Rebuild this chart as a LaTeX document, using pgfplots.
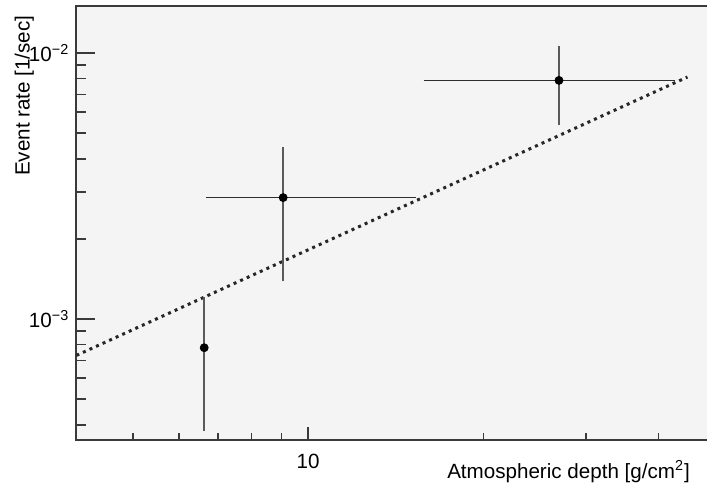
\documentclass[border=0pt]{standalone}
\usepackage{fontspec}
\setmainfont{Liberation Sans}
\usepackage{pgfplots}
\pgfplotsset{compat=1.18}
\usepackage{pgfplotstable}

\definecolor{padbg}{HTML}{F3F4F3}
\definecolor{framecol}{HTML}{3A3A3A}
\definecolor{xerrcol}{HTML}{2E2E2E}
\definecolor{yerrcol}{HTML}{5A5A5A}
\definecolor{fitcol}{HTML}{262626}

% measured rates: depth, rate, depth bin (minus/plus), rate error
\pgfplotstableread{
x      y        exm    exp    ey
6.63   7.8e-4   0      0      3.9e-4
9.06   2.86e-3  2.29   6.07   1.43e-3
26.96  7.89e-3  10.94  15.02  2.37e-3
}\ratedata

% linear scaling reference line
\pgfplotstableread{
x     y
4.0   7.3e-4
44.8  8.12e-3
}\fitline

\pgfplotsset{
  padframe/.style={
    at={(0,0)}, anchor=south west,
    scale only axis,
    width=331.45pt, height=217pt,
    xmin=4, xmax=55,
    ymin=3.509e-4, ymax=0.01502,
    tick pos=left,
    tick align=inside,
    every tick/.style={framecol, line width=0.7pt},
  },
}

\begin{document}
\begin{tikzpicture}[font=\fontsize{10.3}{12}\selectfont]
\useasboundingbox (-38.2pt,-25pt) rectangle (315.3pt,220pt);
% frame, y axis and data
\begin{loglogaxis}[
  padframe,
  axis background/.style={fill=padbg},
  axis line style={framecol, line width=1pt},
  major tick length=9.5pt,
  minor tick length=5pt,
  xtick=\empty,
  ytick={1e-3,1e-2},
  yticklabels={{10\textsuperscript{−3}},{10\textsuperscript{−2}}},
  minor ytick={4e-4,5e-4,6e-4,7e-4,8e-4,9e-4,2e-3,3e-3,4e-3,5e-3,6e-3,7e-3,8e-3,9e-3},
  ylabel={Event rate [1/sec]},
  ylabel style={at={(axis description cs:-0.0785,0.979)}, anchor=east, inner sep=0pt},
]
\addplot[fitcol, line width=1.5pt, dash pattern=on 1.5pt off 2.1pt] table[x=x, y=y] {\fitline};
\addplot[draw=none, mark=none,
  error bars/.cd,
    x dir=both, x explicit,
    error bar style={xerrcol, line width=0.5pt},
    error mark options={xerrcol, line width=0.5pt, mark size=1.8pt}]
  table[x=x, y=y, x error plus=exp, x error minus=exm] {\ratedata};
\addplot[only marks, mark=*, mark size=2pt, black,
  error bars/.cd,
    y dir=both, y explicit,
    error bar style={yerrcol, line width=0.75pt},
    error mark options={yerrcol, line width=0.75pt, mark size=1.8pt}]
  table[x=x, y=y, y error=ey] {\ratedata};
\end{loglogaxis}
% x ticks, shorter than the y ticks
\begin{loglogaxis}[
  padframe,
  axis line style={draw=none},
  major tick length=6.5pt,
  minor tick length=3.5pt,
  ytick=\empty,
  xtick={10}, xticklabels={10},
  minor xtick={5,6,7,8,9,20,30,40,50},
  xticklabel style={yshift=-3.5pt},
  xlabel={Atmospheric depth [g/cm\textsuperscript{2}]},
  xlabel style={at={(rel axis cs:0.926,0)}, anchor=base east, yshift=-19pt, inner sep=0pt},
]
\addplot[draw=none] table[x=x, y=y] {\fitline};
\end{loglogaxis}
\end{tikzpicture}
\end{document}
